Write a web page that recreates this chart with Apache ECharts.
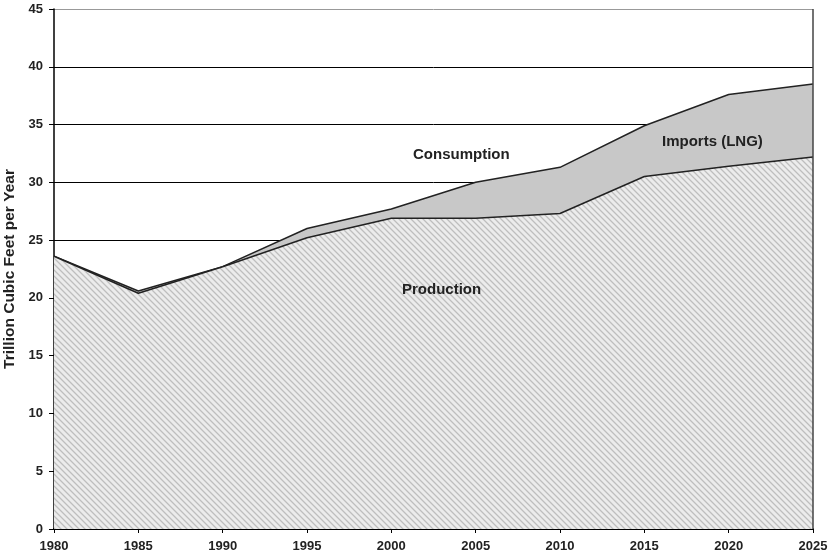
<!DOCTYPE html>
<html>
<head>
<meta charset="utf-8">
<script src="https://cdn.jsdelivr.net/npm/echarts@6/dist/echarts.min.js"></script>
<style>html,body{margin:0;padding:0;background:#fff}#c{width:832px;height:560px}</style>
</head>
<body>
<div id="c"></div>
<script>
const years = ['1980','1985','1990','1995','2000','2005','2010','2015','2020','2025'];
const consumption = [23.6, 20.6, 22.7, 26.0, 27.7, 30.0, 31.3, 34.9, 37.6, 38.5];
const production  = [23.6, 20.4, 22.7, 25.2, 26.9, 26.9, 27.3, 30.5, 31.4, 32.2];
const yTicks = [0, 5, 10, 15, 20, 25, 30, 35, 40, 45];

// hatch pattern
function makePattern() {
  const n = 6;
  const cv = document.createElement('canvas');
  cv.width = n; cv.height = n;
  const ctx = cv.getContext('2d');
  const img = ctx.createImageData(n, n);
  for (let y = 0; y < n; y++) {
    for (let x = 0; x < n; x++) {
      const d = ((x - y) % n + n) % n;
      let v = 236;
      if (d === 0) v = 190;
      else if (d === 1 || d === 5) v = 216;
      const i = (y * n + x) * 4;
      img.data[i] = v; img.data[i+1] = v; img.data[i+2] = v; img.data[i+3] = 255;
    }
  }
  ctx.putImageData(img, 0, 0);
  return cv;
}

const chart = echarts.init(document.getElementById('c'), null, {renderer: 'canvas'});
const splitColors = yTicks.map(v => v === 45 ? '#999' : '#000');
const font = 'Liberation Sans, Arial, sans-serif';

chart.setOption({
  animation: false,
  grid: {left: 54, right: 19, top: 9, bottom: 31, containLabel: false, outerBoundsMode: 'none'},
  xAxis: {
    type: 'category',
    data: years,
    boundaryGap: false,
    axisLine: {lineStyle: {color: '#000', width: 2}},
    axisTick: {show: true, length: 4, lineStyle: {color: '#000'}},
    axisLabel: {color: '#222', fontWeight: 'bold', fontSize: 13, fontFamily: font, margin: 11}
  },
  yAxis: {
    type: 'value',
    min: 0, max: 45, interval: 5,
    name: 'Trillion Cubic Feet per Year',
    nameLocation: 'middle',
    nameGap: 32,
    nameTextStyle: {color: '#222', fontWeight: 'bold', fontSize: 15.5, fontFamily: font},
    axisLine: {show: true, lineStyle: {color: '#000', width: 1.5}},
    axisTick: {show: true, length: 5, lineStyle: {color: '#000'}},
    axisLabel: {color: '#222', fontWeight: 'bold', fontSize: 13, fontFamily: font, margin: 11},
    splitLine: {show: true, lineStyle: {color: splitColors, width: 1}}
  },
  series: [
    {
      name: 'Consumption',
      type: 'line',
      data: consumption,
      symbol: 'none',
      lineStyle: {color: '#222', width: 1.5},
      areaStyle: {color: '#c8c8c8', opacity: 1},
      z: 2
    },
    {
      name: 'Production',
      type: 'line',
      data: production,
      symbol: 'none',
      lineStyle: {color: '#222', width: 1.5},
      areaStyle: {color: {image: makePattern(), repeat: 'repeat'}, opacity: 1},
      z: 3
    }
  ],
  graphic: [
    {type: 'text', left: 413, top: 147, z: 10, style: {text: 'Consumption', fill: '#222', font: 'bold 15px ' + font}},
    {type: 'text', left: 662, top: 134, z: 10, style: {text: 'Imports (LNG)', fill: '#222', font: 'bold 15px ' + font}},
    {type: 'text', left: 402, top: 282, z: 10, style: {text: 'Production', fill: '#222', font: 'bold 15px ' + font}},
    {type: 'line', z: 10, shape: {x1: 813, y1: 9, x2: 813, y2: 529}, style: {stroke: '#444', lineWidth: 1.5}}
  ]
});
</script>
</body>
</html>
